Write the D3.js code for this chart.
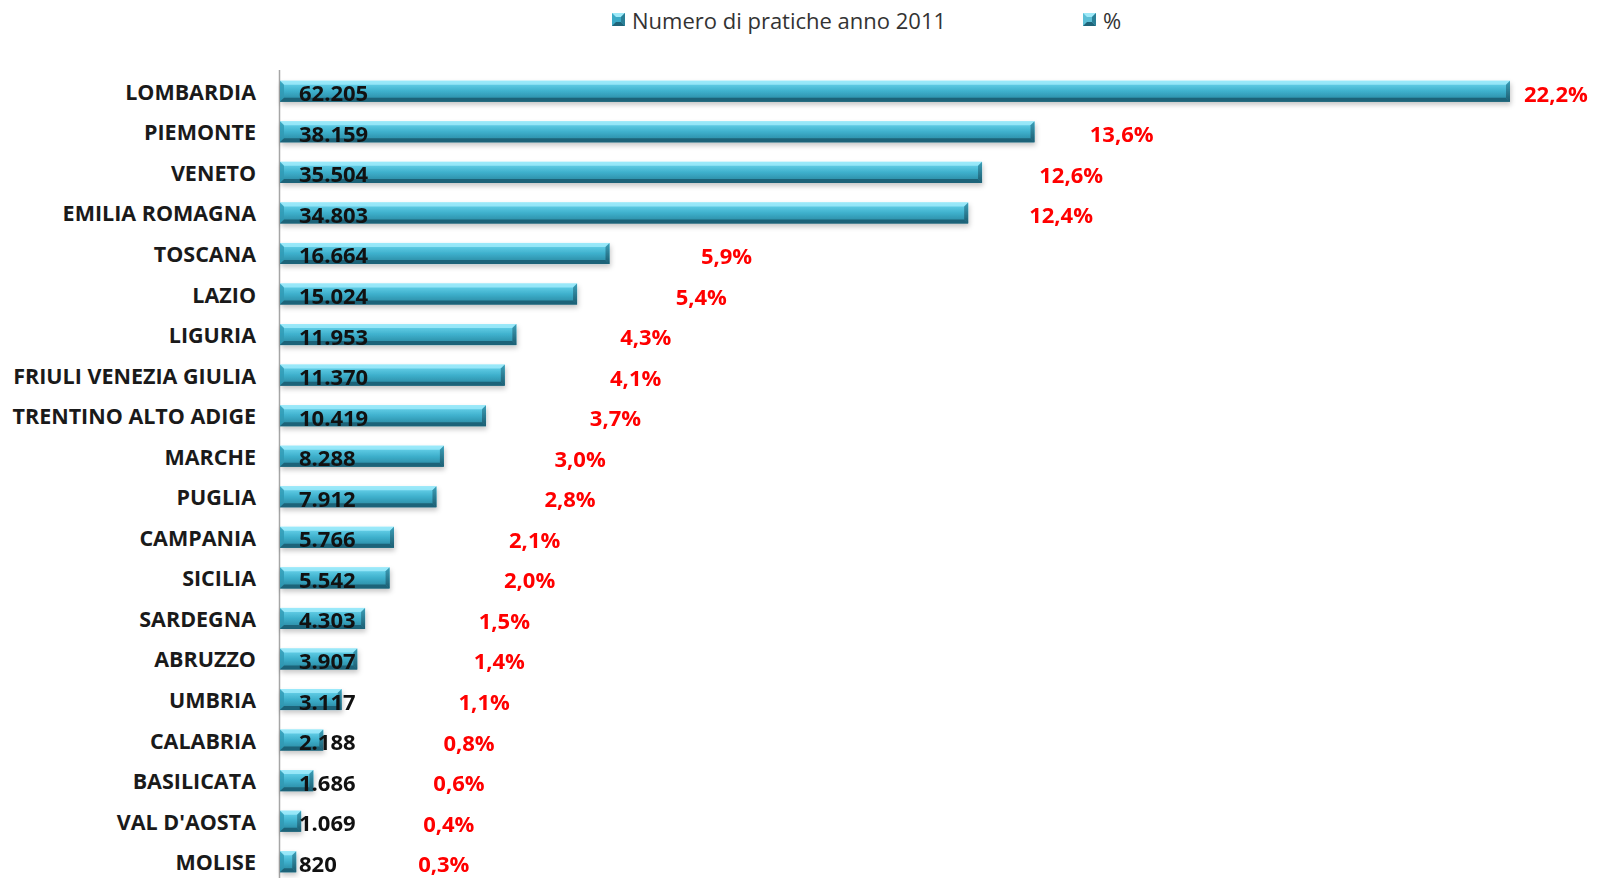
<!DOCTYPE html>
<html>
<head>
<meta charset="utf-8">
<script src="https://cdn.jsdelivr.net/npm/d3@7/dist/d3.min.js"></script>
<style>
  html, body { margin: 0; padding: 0; background: #ffffff; }
  svg { display: block; font-family: "Open Sans", "Lato", "Liberation Sans", sans-serif; }
</style>
</head>
<body>
<svg id="chart" width="1600" height="878"></svg>
<script>
// Pratiche per regione, anno 2011
const regions = ["LOMBARDIA", "PIEMONTE", "VENETO", "EMILIA ROMAGNA", "TOSCANA", "LAZIO",
  "LIGURIA", "FRIULI VENEZIA GIULIA", "TRENTINO ALTO ADIGE", "MARCHE", "PUGLIA",
  "CAMPANIA", "SICILIA", "SARDEGNA", "ABRUZZO", "UMBRIA", "CALABRIA", "BASILICATA",
  "VAL D'AOSTA", "MOLISE"];
const counts = [62205, 38159, 35504, 34803, 16664, 15024, 11953, 11370, 10419, 8288,
  7912, 5766, 5542, 4303, 3907, 3117, 2188, 1686, 1069, 820];
const percents = [22.2, 13.6, 12.6, 12.4, 5.9, 5.4, 4.3, 4.1, 3.7, 3.0, 2.8, 2.1, 2.0,
  1.5, 1.4, 1.1, 0.8, 0.6, 0.4, 0.3];
const legendLabels = ["Numero di pratiche anno 2011", "%"];

const rows = regions.map((r, i) => ({ region: r, count: counts[i], pct: percents[i] }));

const it = d3.formatLocale({ decimal: ",", thousands: ".", grouping: [3], currency: ["", "€"] });
const fmtCount = it.format(",d");
const fmtPct = v => it.format(".1f")(v) + "%";

const svg = d3.select("#chart");
const defs = svg.append("defs");

// bar body shading
const grad = defs.append("linearGradient").attr("id", "barGrad")
  .attr("x1", 0).attr("y1", 0).attr("x2", 0).attr("y2", 1);
[[0, "#8fe6f7"], [0.18, "#5fcbe4"], [0.5, "#3eb0cc"], [0.82, "#2f93ad"], [1, "#226f86"]]
  .forEach(([o, c]) => grad.append("stop").attr("offset", o).attr("stop-color", c));

const endGrad = defs.append("linearGradient").attr("id", "endGrad")
  .attr("x1", 0).attr("y1", 0).attr("x2", 0).attr("y2", 1);
[[0, "#3c9fb8"], [1, "#1c5c70"]]
  .forEach(([o, c]) => endGrad.append("stop").attr("offset", o).attr("stop-color", c));

const shadow = defs.append("filter").attr("id", "shadow")
  .attr("x", "-5%").attr("y", "-30%").attr("width", "110%").attr("height", "180%");
shadow.append("feDropShadow").attr("dx", 1).attr("dy", 3).attr("stdDeviation", 2.5)
  .attr("flood-color", "#000").attr("flood-opacity", 0.22);

const x0 = 280;
const x = d3.scaleLinear().domain([0, d3.max(counts)]).range([x0, 1510]);
// secondary scale used to place the percentage labels
const xp = d3.scaleLinear().domain([0, d3.max(percents)]).range([403, 1524]);
const y = d3.scaleBand().domain(regions).range([71, 882]).paddingInner(0.48).paddingOuter(0.24);
const bh = y.bandwidth();
const bev = 4;

// vertical category axis
svg.append("line").attr("x1", x0 - 0.5).attr("x2", x0 - 0.5).attr("y1", 70).attr("y2", 878)
  .attr("stroke", "#a6a6a6").attr("stroke-width", 1.5);

svg.append("g").selectAll("text").data(rows).join("text")
  .attr("x", 256).attr("y", d => y(d.region) + bh / 2)
  .attr("text-anchor", "end").attr("dominant-baseline", "central")
  .attr("font-size", 21.5).attr("font-weight", 700).attr("fill", "#1a1a1a")
  .text(d => d.region);

// beveled bar shape
function drawBar(g, x1, x2, yTop, h) {
  const w = Math.max(x2 - x1, 2);
  const b = Math.min(bev, w / 2);
  g.append("rect").attr("x", x1).attr("y", yTop).attr("width", w).attr("height", h)
    .attr("fill", "url(#barGrad)");
  // top highlight bevel
  g.append("path").attr("d", `M${x1},${yTop}L${x1 + w},${yTop}L${x1 + w - b},${yTop + b}L${x1 + b},${yTop + b}Z`)
    .attr("fill", "#9eeafa").attr("opacity", 0.85);
  // left bevel
  g.append("path").attr("d", `M${x1},${yTop}L${x1 + b},${yTop + b}L${x1 + b},${yTop + h - b}L${x1},${yTop + h}Z`)
    .attr("fill", "#2f98b3").attr("opacity", 0.8);
  // bottom bevel
  g.append("path").attr("d", `M${x1},${yTop + h}L${x1 + b},${yTop + h - b}L${x1 + w - b},${yTop + h - b}L${x1 + w},${yTop + h}Z`)
    .attr("fill", "#1f6479");
  // right end bevel
  g.append("path").attr("d", `M${x1 + w},${yTop}L${x1 + w},${yTop + h}L${x1 + w - b},${yTop + h - b}L${x1 + w - b},${yTop + b}Z`)
    .attr("fill", "url(#endGrad)");
}

const bars = svg.append("g").attr("filter", "url(#shadow)");
rows.forEach(d => {
  const g = bars.append("g");
  drawBar(g, x(0), x(d.count), y(d.region), bh);
});

// count labels inside the bars
svg.append("g").selectAll("text").data(rows).join("text")
  .attr("x", 299).attr("y", d => y(d.region) + bh / 2 + 1)
  .attr("dominant-baseline", "central")
  .attr("font-size", 22).attr("font-weight", 700).attr("fill", "#111")
  .text(d => fmtCount(d.count));

// percentage labels
svg.append("g").selectAll("text").data(rows).join("text")
  .attr("x", d => xp(d.pct)).attr("y", d => y(d.region) + bh / 2 + 1.5)
  .attr("dominant-baseline", "central")
  .attr("font-size", 22).attr("font-weight", 700).attr("fill", "#ff0000")
  .text(d => fmtPct(d.pct));

// legend
const legend = svg.append("g");
const legX = [612, 1083];
legendLabels.forEach((lab, i) => {
  const g = legend.append("g").attr("transform", `translate(${legX[i]},13)`);
  const gm = g.append("g");
  gm.append("rect").attr("width", 13).attr("height", 13).attr("fill", i === 0 ? "#3aaac6" : "#5cbfd6");
  gm.append("path").attr("d", "M0,0L13,0L9,4L4,4Z").attr("fill", "#9ee9f8");
  gm.append("path").attr("d", "M0,13L4,9L9,9L13,13Z").attr("fill", "#1f6479");
  gm.append("path").attr("d", "M13,0L13,13L9,9L9,4Z").attr("fill", "#2a7f96");
  g.append("text").attr("x", 20).attr("y", 7).attr("dominant-baseline", "central")
    .attr("font-size", 22).attr("fill", "#333").text(lab);
});
</script>
</body>
</html>
